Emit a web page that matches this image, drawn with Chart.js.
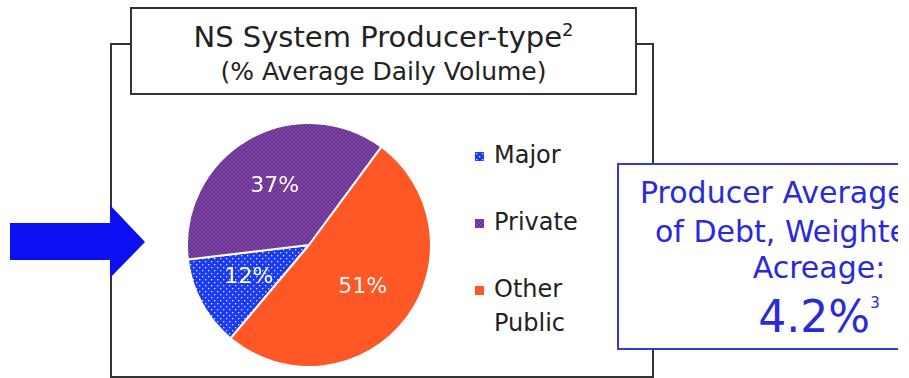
<!DOCTYPE html>
<html>
<head>
<meta charset="utf-8">
<script src="https://cdn.jsdelivr.net/npm/chart.js@4"></script>
<style>
  html, body { margin: 0; padding: 0; background: #fff; }
  body { width: 909px; height: 378px; position: relative; overflow: hidden; font-family: "DejaVu Sans", sans-serif; }
  #frame { position: absolute; left: 0; top: 0; }
  #titleBox {
    position: absolute; left: 130px; top: 7px; width: 503px; height: 84px;
    border: 2px solid #333; background: #fff; text-align: center; color: #222;
  }
  #titleBox .l1 { position: absolute; left: 0; right: 0; top: 11px; font-size: 29px; line-height: 34px; }
  #titleBox .l2 { position: absolute; left: 0; right: 0; top: 46px; font-size: 25px; line-height: 33px; }
  #titleBox sup { font-size: 18px; vertical-align: 11px; line-height: 0; }
  #pieWrap { position: absolute; left: 186px; top: 122px; width: 246px; height: 246px; }
  #legend { position: absolute; left: 475px; top: 138px; margin: 0; padding: 0; list-style: none; color: #222; }
  #legend li { position: relative; padding-left: 19px; font-size: 24px; line-height: 34px; margin-bottom: 33px; }
  #legend canvas { position: absolute; left: 0; top: 14px; width: 9px; height: 9px; }
  #note {
    position: absolute; left: 617px; top: 163px; width: 279px; height: 183px;
    border: 2px solid #3838d8; border-right: none; background: #fff; overflow: hidden; color: #2a2ada;
  }
  #note span { position: absolute; white-space: nowrap; line-height: 1; }
  #note sup { font-size: 15px; vertical-align: 24px; line-height: 0; }
</style>
</head>
<body>
<svg id="frame" width="909" height="378">
  <polyline points="130,44 111,44 111,377 653,377 653,44 637,44" fill="none" stroke="#333" stroke-width="2"/>
  <polygon points="10,223 110,223 110,205 145,242 110,278 110,260 10,260" fill="#0a10f2"/>
</svg>
<div id="titleBox">
  <div class="l1">NS System Producer-type<sup>2</sup></div>
  <div class="l2">(% Average Daily Volume)</div>
</div>
<div id="pieWrap"><canvas id="pie"></canvas></div>
<ul id="legend"></ul>
<div id="note">
  <span style="left:21px; top:13px; font-size:30px;">Producer Average</span>
  <span style="left:36px; top:52px; font-size:30px;">of Debt, Weighted</span>
  <span style="left:50px; width:300px; text-align:center; top:88px; font-size:30px;">Acreage:</span>
  <span style="left:50px; width:300px; text-align:center; top:130px; font-size:44px;">4.2%<sup>3</sup></span>
</div>
<script>
// producer-type split, % of average daily volume
const labels = ['Major', 'Private', 'Other Public'];
const shares = [12, 37, 51];
const legendLines = [['Major'], ['Private'], ['Other', 'Public']];

// hatched fills like the original slide
function dotFill(ctx) {
  const c = document.createElement('canvas');
  c.width = 6; c.height = 6;
  const g = c.getContext('2d');
  g.fillStyle = '#1b3bf0';
  g.fillRect(0, 0, 6, 6);
  g.fillStyle = 'rgba(255,255,255,0.85)';
  g.fillRect(1, 1, 1.3, 1.3);
  g.fillRect(4, 4, 1.3, 1.3);
  return ctx.createPattern(c, 'repeat');
}

function crossFill(ctx) {
  const c = document.createElement('canvas');
  c.width = 4; c.height = 4;
  const g = c.getContext('2d');
  g.fillStyle = '#4038c8';
  g.fillRect(0, 0, 4, 4);
  g.strokeStyle = '#a8406e';
  g.lineWidth = 1;
  g.beginPath();
  g.moveTo(0, 0); g.lineTo(4, 4);
  g.moveTo(4, 0); g.lineTo(0, 4);
  g.stroke();
  return ctx.createPattern(c, 'repeat');
}

const ctx = document.getElementById('pie').getContext('2d');
const fills = [dotFill(ctx), crossFill(ctx), '#ff5726'];

// percent labels inside the slices
const sliceLabels = {
  id: 'sliceLabels',
  afterDatasetsDraw(chart) {
    const c = chart.ctx;
    const meta = chart.getDatasetMeta(0);
    c.save();
    c.font = '22px "DejaVu Sans"';
    c.fillStyle = '#fff';
    c.textAlign = 'center';
    c.textBaseline = 'middle';
    meta.data.forEach((arc, i) => {
      const p = arc.getProps(['x', 'y', 'startAngle', 'endAngle', 'outerRadius']);
      const mid = (p.startAngle + p.endAngle) / 2;
      const r = p.outerRadius * 0.56;
      c.fillText(shares[i] + '%', p.x + Math.cos(mid) * r, p.y + Math.sin(mid) * r);
    });
    c.restore();
  }
};

new Chart(ctx, {
  type: 'pie',
  data: {
    labels: labels,
    datasets: [{
      data: shares,
      backgroundColor: fills,
      borderColor: '#fff',
      borderWidth: 2
    }]
  },
  options: {
    responsive: true,
    maintainAspectRatio: false,
    animation: false,
    rotation: 220,
    layout: { padding: 0 },
    plugins: {
      legend: { display: false },
      tooltip: { enabled: false }
    }
  },
  plugins: [sliceLabels]
});

// legend built from the same labels / fills
const legend = document.getElementById('legend');
legendLines.forEach((lines, i) => {
  const li = document.createElement('li');
  const sw = document.createElement('canvas');
  sw.width = 9; sw.height = 9;
  const sctx = sw.getContext('2d');
  sctx.fillStyle = i === 2 ? fills[2] : (i === 0 ? dotFill(sctx) : crossFill(sctx));
  sctx.fillRect(0, 0, 9, 9);
  li.appendChild(sw);
  li.appendChild(document.createTextNode(lines[0]));
  for (let k = 1; k < lines.length; k++) {
    li.appendChild(document.createElement('br'));
    li.appendChild(document.createTextNode(lines[k]));
  }
  legend.appendChild(li);
});
</script>
</body>
</html>
